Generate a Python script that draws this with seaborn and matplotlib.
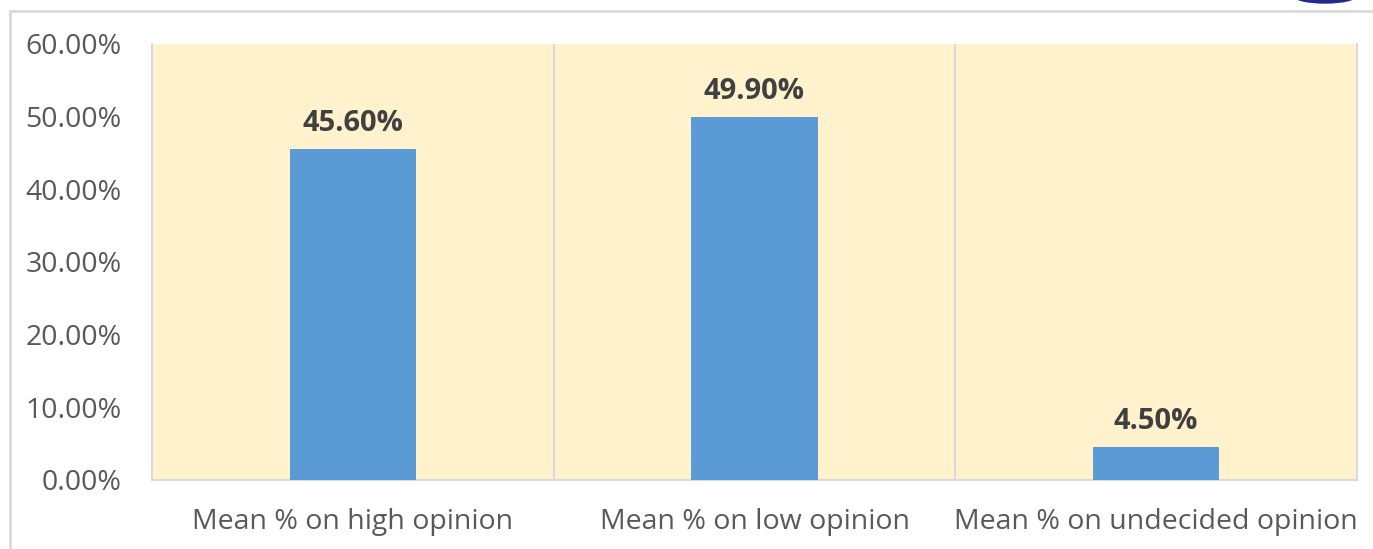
import matplotlib
matplotlib.use("Agg")
import matplotlib.pyplot as plt
import seaborn as sns
import pandas as pd
from matplotlib.patches import Rectangle, Ellipse
from matplotlib.ticker import FuncFormatter, MultipleLocator

# Chart data
categories = ["Mean % on high opinion", "Mean % on low opinion", "Mean % on undecided opinion"]
values = [45.60, 49.90, 4.50]
bar_labels = ["45.60%", "49.90%", "4.50%"]

BAR_COLOR = "#5B9BD5"
BG_COLOR = "#FFF2CC"
GRID_COLOR = "#D9D9D9"
TEXT_COLOR = "#595959"

sns.set_style("white")
plt.rcParams["font.family"] = ["Open Sans", "DejaVu Sans"]

df = pd.DataFrame({"category": categories, "value": values})

fig = plt.figure(figsize=(13.73, 5.49), dpi=100)
ax = fig.add_axes([152 / 1373, 1 - 480 / 549, (1357 - 152) / 1373, (480 - 44) / 549])
ax.set_facecolor(BG_COLOR)

sns.barplot(data=df, x="category", y="value", color=BAR_COLOR, width=0.315,
            saturation=1, linewidth=0, ax=ax, zorder=3)

ax.set_ylim(0, 60)
ax.set_xlim(-0.5, 2.5)
ax.yaxis.set_major_locator(MultipleLocator(10))
ax.yaxis.set_major_formatter(FuncFormatter(lambda v, _: f"{v:.2f}%"))

# category separators
for xb in [0.5, 1.5]:
    ax.axvline(xb, color=GRID_COLOR, lw=1.5, zorder=1)

ax.bar_label(ax.containers[0], labels=bar_labels, padding=8, fontsize=21,
             fontweight="bold", color="#404040")

ax.set_xlabel("")
ax.set_ylabel("")
ax.tick_params(axis="y", labelsize=20.5, labelcolor=TEXT_COLOR, length=0, pad=22)
ax.tick_params(axis="x", labelsize=20.5, labelcolor=TEXT_COLOR, length=0, pad=20)

for side in ["left", "right", "bottom"]:
    ax.spines[side].set_color(GRID_COLOR)
    ax.spines[side].set_linewidth(1.5)
ax.spines["top"].set_visible(False)

# outer frame and clipped logo in the top right corner
fig.patches.append(Rectangle((10 / 1373, -0.1), 1.2, 1 - 11 / 549 + 0.1,
                             transform=fig.transFigure, fill=False,
                             edgecolor=GRID_COLOR, lw=2))
fig.patches.append(Ellipse((1325 / 1373, 1 + 4 / 549), 62 / 1373, 14 / 549,
                           transform=fig.transFigure, facecolor="#1F2A8C",
                           edgecolor="#1F2A8C"))

fig.savefig("out.png", dpi=100)
